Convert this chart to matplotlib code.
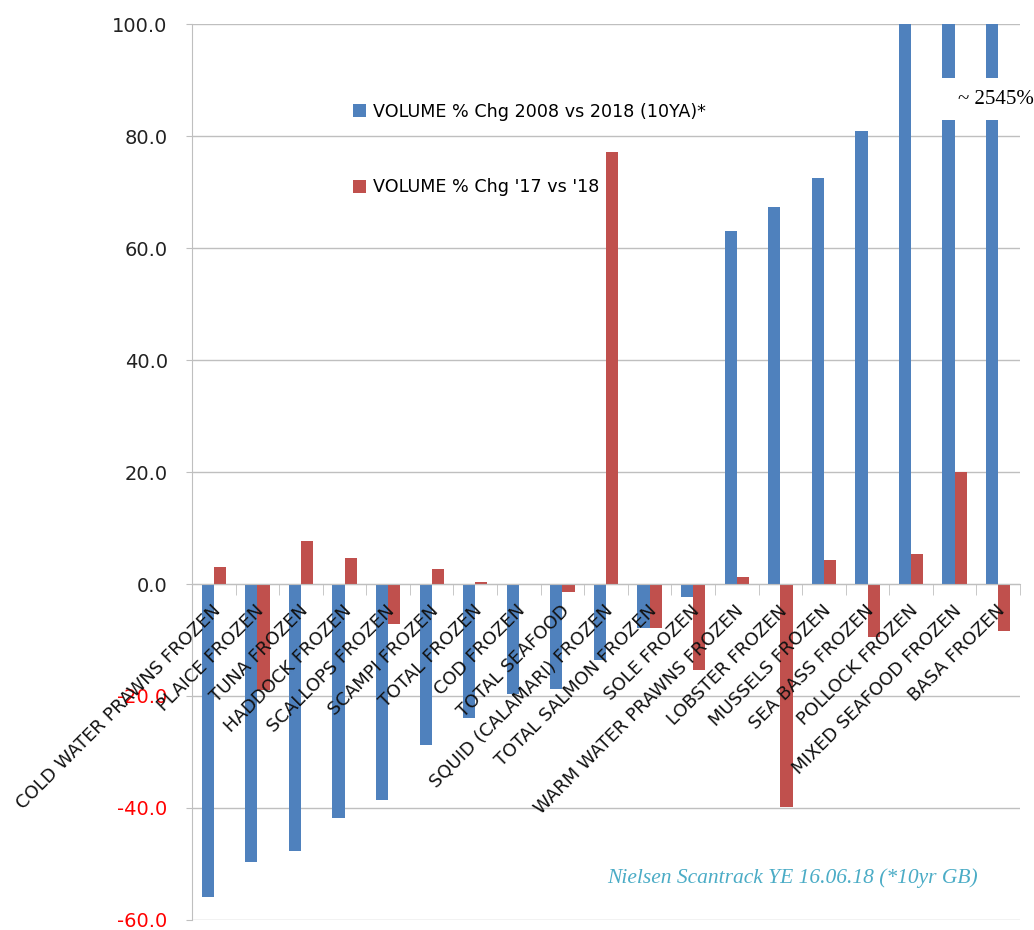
import matplotlib.pyplot as plt
from matplotlib.patches import Rectangle
from matplotlib.ticker import FixedLocator
from matplotlib.transforms import offset_copy

categories = [
    "COLD WATER PRAWNS FROZEN", "PLAICE FROZEN", "TUNA FROZEN", "HADDOCK FROZEN",
    "SCALLOPS FROZEN", "SCAMPI FROZEN", "TOTAL FROZEN", "COD FROZEN",
    "TOTAL SEAFOOD", "SQUID (CALAMARI) FROZEN", "TOTAL SALMON FROZEN",
    "SOLE FROZEN", "WARM WATER PRAWNS FROZEN", "LOBSTER FROZEN",
    "MUSSELS FROZEN", "SEA BASS FROZEN", "POLLOCK FROZEN",
    "MIXED SEAFOOD FROZEN", "BASA FROZEN",
]
# 10 year change (last two run off the top of the axis, ~2545%)
vol_10ya = [-55.9, -49.6, -47.7, -41.8, -38.6, -28.8, -23.9, -19.6, -18.8,
            -13.6, -7.8, -2.3, 63.0, 67.3, 72.5, 80.9, 100.0, 2545.0, 2545.0]
vol_yoy = [3.0, -18.9, 7.7, 4.6, -7.1, 2.6, 0.3, -0.2, -1.5,
           77.1, -7.9, -15.4, 1.2, -39.9, 4.2, -9.5, 5.4, 20.0, -8.4]

label_10ya = "VOLUME % Chg 2008 vs 2018 (10YA)*"
label_yoy = "VOLUME % Chg '17 vs '18"
source = "Nielsen Scantrack YE 16.06.18 (*10yr GB)"

blue = "#4F81BD"
red = "#C0504D"
grey = "#BFBFBF"

fig = plt.figure(figsize=(10.34, 9.30), dpi=100)
ax = fig.add_axes([0.1857, 0.0108, 0.8008, 0.9633])

x = list(range(len(categories)))
w = 0.28
ax.bar([i - w / 2 for i in x], vol_10ya, w, color=blue, label=label_10ya, zorder=2)
ax.bar([i + w / 2 for i in x], vol_yoy, w, color=red, label=label_yoy, zorder=2)

ax.set_ylim(-60, 100)
ax.set_xlim(-0.5, len(categories) - 0.5)
ax.set_yticks(range(-60, 101, 20))
ax.set_yticklabels([f"{v:.1f}" for v in range(-60, 101, 20)], fontsize=14)
for t, v in zip(ax.get_yticklabels(), range(-60, 101, 20)):
    if v < 0:
        t.set_color("#FF0000")
    else:
        t.set_color("#222222")
ax.yaxis.grid(True, color=grey, linewidth=1, zorder=0)
ax.set_axisbelow(True)

for s in ["top", "right"]:
    ax.spines[s].set_visible(False)
ax.spines["left"].set_color(grey)
ax.spines["bottom"].set_color(grey)
ax.spines["bottom"].set_position(("data", 0))
ax.tick_params(axis="y", length=4.5, color=grey, pad=13)

# category labels drawn as text so they sit on top of the bars
ax.set_xticks(x)
ax.set_xticklabels([])
ax.xaxis.set_minor_locator(FixedLocator([i - 0.5 for i in range(len(categories) + 1)]))
ax.tick_params(axis="x", which="major", length=0)
ax.tick_params(axis="x", which="minor", length=8, color=grey, direction="out")
lab_tr = offset_copy(ax.transData, fig=fig, x=4, y=-24, units="dots")
for i, name in zip(x, categories):
    ax.text(i, 0, name, transform=lab_tr, rotation=45, ha="right", va="center",
            rotation_mode="anchor", fontsize=13, color="#111111", zorder=5)

# axis break for the off-scale bars
ax.add_patch(Rectangle((16.5, 82.9), 2.0, 7.5, facecolor="white", edgecolor="none", zorder=3))
ax.text(17.95, 86.6, "~ 2545%", fontsize=15, family="Liberation Serif",
        ha="center", va="center", zorder=4, clip_on=False)

ax.legend(loc="upper left", bbox_to_anchor=(0.175, 0.93), frameon=False,
          fontsize=12.6, handlelength=0.75, handleheight=0.75, handletextpad=0.4,
          labelspacing=3.3)

ax.text(0.949, 0.047, source, transform=ax.transAxes, ha="right", va="center",
        fontsize=15.5, family="Liberation Serif", style="italic", color="#4BACC6")

fig.savefig("out.png", dpi=100)
